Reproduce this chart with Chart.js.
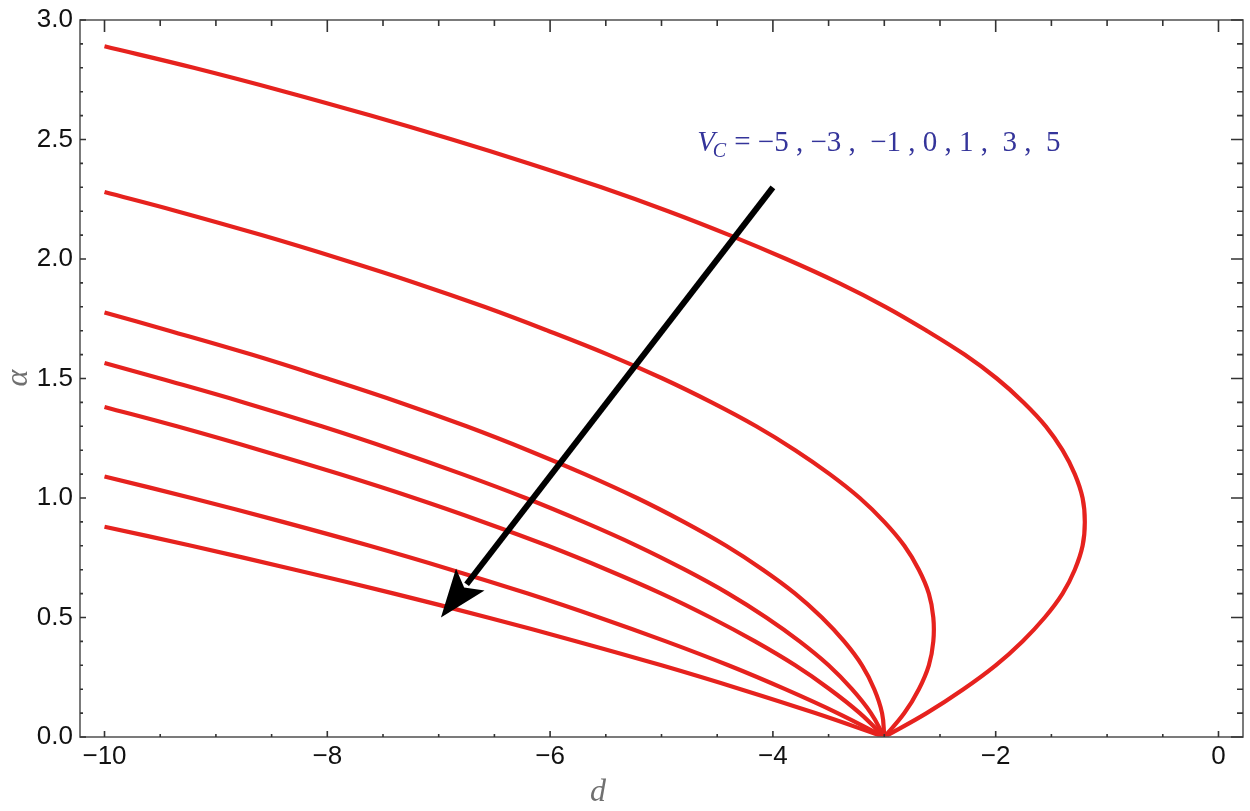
<!DOCTYPE html>
<html>
<head>
<meta charset="utf-8">
<script src="https://cdn.jsdelivr.net/npm/chart.js@4"></script>
<style>
  html, body { margin: 0; padding: 0; background: #fff; }
  #wrap { position: relative; width: 1250px; height: 811px; }
</style>
</head>
<body>
<div id="wrap"><canvas id="chart" width="1250" height="811"></canvas></div>
<script>
// alpha samples, d values for each V_C
const alphaA = [0, 0.1, 0.2, 0.3, 0.4, 0.5, 0.6, 0.7, 0.8, 0.9, 1.0, 1.1, 1.2, 1.3, 1.4, 1.5, 1.6, 1.7, 1.8, 1.9, 2.0, 2.1, 2.2, 2.3, 2.4, 2.5, 2.6, 2.7, 2.8, 2.89];
const dVm5 = [-3, -2.62, -2.29, -2.00, -1.76, -1.56, -1.40, -1.29, -1.22, -1.20, -1.22, -1.29, -1.40, -1.55, -1.75, -1.99, -2.28, -2.62, -2.99, -3.41, -3.88, -4.39, -4.94, -5.54, -6.19, -6.88, -7.61, -8.38, -9.20, -10];

const alphaB = [0, 0.1, 0.2, 0.3, 0.4, 0.5, 0.6, 0.7, 0.8, 0.9, 1.0, 1.1, 1.2, 1.3, 1.4, 1.5, 1.6, 1.7, 1.8, 1.9, 2.0, 2.1, 2.2, 2.28];
const dVm3 = [-3, -2.82, -2.69, -2.60, -2.56, -2.56, -2.60, -2.69, -2.82, -3.00, -3.22, -3.49, -3.80, -4.15, -4.55, -4.99, -5.48, -6.02, -6.59, -7.21, -7.88, -8.59, -9.35, -10];

const alphaC = [0, 0.1, 0.2, 0.3, 0.4, 0.5, 0.6, 0.7, 0.8, 0.9, 1.0, 1.1, 1.2, 1.3, 1.4, 1.5, 1.6, 1.7, 1.776];
const dVm1 = [-3, -3.02, -3.09, -3.20, -3.36, -3.56, -3.80, -4.09, -4.42, -4.80, -5.22, -5.69, -6.20, -6.75, -7.35, -8.00, -8.68, -9.42, -10];

const alphaD = [0, 0.1, 0.2, 0.3, 0.4, 0.5, 0.6, 0.7, 0.8, 0.9, 1.0, 1.1, 1.2, 1.3, 1.4, 1.5, 1.565];
const dV0 = [-3, -3.12, -3.29, -3.50, -3.76, -4.06, -4.40, -4.79, -5.22, -5.70, -6.22, -6.79, -7.40, -8.05, -8.75, -9.50, -10];

const alphaE = [0, 0.1, 0.2, 0.3, 0.4, 0.5, 0.6, 0.7, 0.8, 0.9, 1.0, 1.1, 1.2, 1.3, 1.381];
const dV1 = [-3, -3.22, -3.49, -3.80, -4.16, -4.56, -5.00, -5.49, -6.02, -6.60, -7.22, -7.89, -8.60, -9.35, -10];

const alphaF = [0, 0.1, 0.2, 0.3, 0.4, 0.5, 0.6, 0.7, 0.8, 0.9, 1.0, 1.09];
const dV3 = [-3, -3.42, -3.89, -4.40, -4.96, -5.56, -6.20, -6.89, -7.62, -8.40, -9.22, -10];

const alphaG = [0, 0.1, 0.2, 0.3, 0.4, 0.5, 0.6, 0.7, 0.8, 0.88];
const dV5 = [-3, -3.62, -4.29, -5.00, -5.76, -6.56, -7.40, -8.29, -9.22, -10];

const xTicks = [-10, -8, -6, -4, -2, 0];
const yTicks = [0, 0.5, 1.0, 1.5, 2.0, 2.5, 3.0];
const vcLabel = '−5 , −3 ,  −1 , 0 , 1 ,  3 ,  5';

// arrow and label anchor in data units
const arrowFrom = { x: -4.0, y: 2.3 };
const arrowTo = { x: -6.98, y: 0.5 };
const labelAt = { x: -4.68, y: 2.49 };

function pts(ds, as) {
    return ds.map((d, i) => ({ x: d, y: as[i] }));
}

const series = [
    pts(dVm5, alphaA), pts(dVm3, alphaB), pts(dVm1, alphaC),
    pts(dV0, alphaD), pts(dV1, alphaE), pts(dV3, alphaF), pts(dV5, alphaG)
];

const RED = '#e6221e';

// frame + inward ticks on all four sides, Mathematica style
const framePlugin = {
    id: 'frame',
    afterDatasetsDraw(chart) {
        const ctx = chart.ctx;
        const a = chart.chartArea;
        const xs = chart.scales.x, ys = chart.scales.y;
        ctx.save();
        ctx.strokeStyle = '#5a5a5a';
        ctx.lineWidth = 1.6;
        ctx.strokeRect(a.left, a.top, a.right - a.left, a.bottom - a.top);
        ctx.strokeStyle = '#333';
        for (let v = -10; v <= 0.001; v += 0.5) {
            const px = xs.getPixelForValue(v);
            const major = Math.abs(v % 2) < 0.01;
            ctx.beginPath();
            ctx.moveTo(px, a.bottom); ctx.lineTo(px, a.bottom - (major ? 6 : 3));
            ctx.moveTo(px, a.top); ctx.lineTo(px, a.top + (major ? 12 : 6));
            ctx.stroke();
        }
        for (let i = 0; i <= 30; i++) {
            const v = i / 10;
            const py = ys.getPixelForValue(v);
            const major = i % 5 === 0;
            ctx.beginPath();
            ctx.moveTo(a.left, py); ctx.lineTo(a.left + (major ? 6 : 3), py);
            ctx.moveTo(a.right, py); ctx.lineTo(a.right - (major ? 12 : 6), py);
            ctx.stroke();
        }
        ctx.restore();
    }
};

const arrowPlugin = {
    id: 'arrow',
    afterDatasetsDraw(chart) {
        const ctx = chart.ctx;
        const xs = chart.scales.x, ys = chart.scales.y;
        const x1 = xs.getPixelForValue(arrowFrom.x), y1 = ys.getPixelForValue(arrowFrom.y);
        const x2 = xs.getPixelForValue(arrowTo.x), y2 = ys.getPixelForValue(arrowTo.y);
        const ang = Math.atan2(y2 - y1, x2 - x1);
        const headLen = 48, headW = 18;
        const bx = x2 - headLen * Math.cos(ang), by = y2 - headLen * Math.sin(ang);
        ctx.save();
        ctx.strokeStyle = '#000';
        ctx.fillStyle = '#000';
        ctx.lineWidth = 6;
        ctx.lineCap = 'butt';
        ctx.beginPath();
        ctx.moveTo(x1, y1);
        ctx.lineTo(bx + 6 * Math.cos(ang), by + 6 * Math.sin(ang));
        ctx.stroke();
        ctx.beginPath();
        ctx.moveTo(x2, y2);
        ctx.lineTo(bx + headW * Math.sin(ang), by - headW * Math.cos(ang));
        ctx.lineTo(bx + 10 * Math.cos(ang), by + 10 * Math.sin(ang));
        ctx.lineTo(bx - headW * Math.sin(ang), by + headW * Math.cos(ang));
        ctx.closePath();
        ctx.fill();

        // V_C label
        const lx = xs.getPixelForValue(labelAt.x), ly = ys.getPixelForValue(labelAt.y);
        ctx.fillStyle = '#34349a';
        ctx.textBaseline = 'alphabetic';
        ctx.textAlign = 'left';
        ctx.font = 'italic 29px "Liberation Serif"';
        ctx.fillText('V', lx, ly + 9);
        let w = ctx.measureText('V').width;
        ctx.font = 'italic 20px "Liberation Serif"';
        ctx.fillText('C', lx + w - 2, ly + 15);
        w += ctx.measureText('C').width + 6;
        ctx.font = '29px "Liberation Serif"';
        ctx.fillText('= ' + vcLabel, lx + w, ly + 9);

        // axis titles
        ctx.fillStyle = '#707070';
        ctx.font = 'italic 32px "Liberation Serif"';
        ctx.textAlign = 'center';
        ctx.fillText('d', 598, 801);
        ctx.save();
        ctx.translate(27, 378);
        ctx.rotate(-Math.PI / 2);
        ctx.fillText('α', 0, 0);
        ctx.restore();
        ctx.restore();
    }
};

new Chart(document.getElementById('chart'), {
    type: 'scatter',
    data: {
        datasets: series.map(s => ({
            data: s,
            showLine: true,
            borderColor: RED,
            borderWidth: 4.2,
            pointRadius: 0,
            tension: 0.4,
            fill: false
        }))
    },
    options: {
        responsive: false,
        animation: false,
        layout: { padding: { top: 16, right: 7, left: 0, bottom: 0 } },
        plugins: { legend: { display: false }, tooltip: { enabled: false } },
        scales: {
            x: {
                type: 'linear',
                min: -10.22,
                max: 0.22,
                afterBuildTicks: scale => { scale.ticks = xTicks.map(v => ({ value: v })); },
                afterFit: scale => { scale.height = 74; },
                grid: { display: false, drawTicks: false },
                border: { display: false },
                ticks: {
                    padding: 7,
                    color: '#111',
                    font: { family: '"Liberation Sans"', size: 26, lineHeight: 1 },
                    callback: v => (v < 0 ? '−' + Math.abs(v) : String(v))
                }
            },
            y: {
                type: 'linear',
                min: 0,
                max: 3,
                afterBuildTicks: scale => { scale.ticks = yTicks.map(v => ({ value: v })); },
                afterFit: scale => { scale.width = 80; },
                grid: { display: false, drawTicks: false },
                border: { display: false },
                ticks: {
                    padding: 7,
                    color: '#111',
                    font: { family: '"Liberation Sans"', size: 26, lineHeight: 1 },
                    callback: v => Number(v).toFixed(1)
                }
            }
        }
    },
    plugins: [framePlugin, arrowPlugin]
});
</script>
</body>
</html>
